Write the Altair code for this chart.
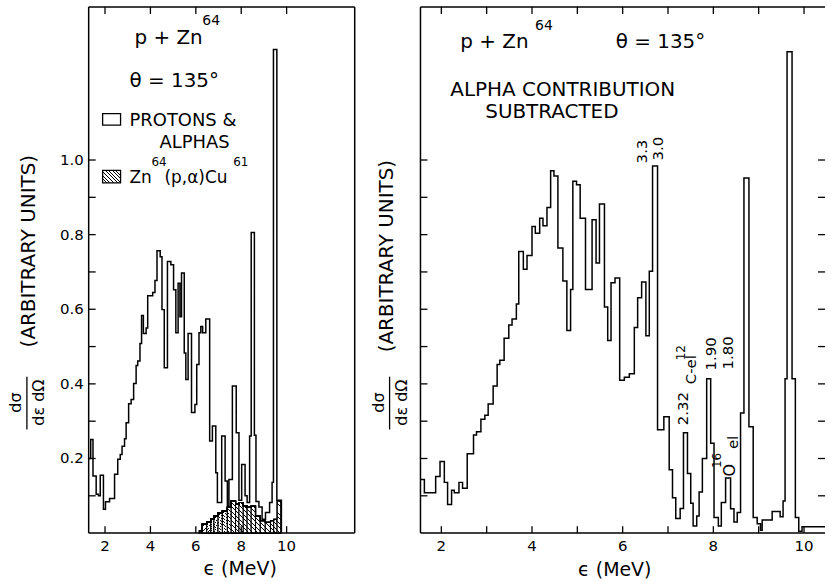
import altair as alt
import pandas as pd

# ---------------- data ----------------
# Left panel: protons & alphas, step histogram (bin left edges in MeV, heights)
left_edges = [1.28, 1.37, 1.47, 1.61, 1.71, 1.79, 1.93, 2.02, 2.20, 2.42,
              2.56, 2.67, 2.75, 2.86, 2.93, 3.04, 3.15, 3.26, 3.37, 3.44,
              3.54, 3.61, 3.69, 3.81, 3.88, 4.10, 4.20, 4.29, 4.43, 4.51,
              4.61, 4.75, 4.90, 5.02, 5.12, 5.22, 5.30, 5.37, 5.49, 5.56,
              5.66, 5.81, 5.96, 6.04, 6.14, 6.22, 6.30, 6.44, 6.61, 6.73,
              6.88, 6.95, 7.14, 7.29, 7.39, 7.46, 7.61, 7.78, 7.90, 8.02,
              8.17, 8.26, 8.37, 8.44, 8.58, 8.65, 8.78, 8.92, 9.07, 9.25,
              9.36, 9.42, 9.57]
left_heights = [0.200, 0.251, 0.153, 0.104, 0.100, 0.155, 0.064, 0.084, 0.093, 0.158,
                0.198, 0.211, 0.233, 0.253, 0.296, 0.347, 0.358, 0.401, 0.449, 0.461,
                0.508, 0.583, 0.535, 0.550, 0.636, 0.645, 0.677, 0.757, 0.741, 0.599,
                0.443, 0.728, 0.719, 0.652, 0.537, 0.670, 0.580, 0.697, 0.483, 0.412,
                0.535, 0.323, 0.345, 0.452, 0.537, 0.554, 0.537, 0.574, 0.247, 0.287,
                0.162, 0.082, 0.260, 0.140, 0.073, 0.144, 0.394, 0.269, 0.088, 0.184,
                0.100, 0.082, 0.260, 0.806, 0.262, 0.085, 0.070, 0.037, 0.055, 0.082,
                0.136, 1.296, 0.088]
left_end = 9.77

# Left panel: Zn64(p,alpha)Cu61 contribution (hatched)
alpha_edges = [6.14, 6.29, 6.48, 6.66, 6.80, 6.98, 7.17, 7.39, 7.56, 7.75,
               7.90, 8.09, 8.26, 8.44, 8.63, 8.84, 9.06, 9.29, 9.43, 9.58]
alpha_heights = [0.006, 0.024, 0.030, 0.038, 0.046, 0.055, 0.060, 0.069, 0.086, 0.078,
                 0.082, 0.073, 0.069, 0.073, 0.046, 0.033, 0.029, 0.033, 0.037, 0.086]
alpha_end = 9.75

# Right panel: alpha contribution subtracted
right_edges = [1.54, 1.626, 1.875, 1.971, 2.066, 2.138, 2.226, 2.286, 2.389, 2.468,
               2.571, 2.710, 2.776, 2.873, 2.960, 3.033, 3.143, 3.231, 3.290, 3.385,
               3.488, 3.560, 3.655, 3.708, 3.809, 3.890, 4.000, 4.073, 4.169, 4.242,
               4.330, 4.411, 4.484, 4.571, 4.681, 4.769, 4.851, 4.901, 4.982, 5.062,
               5.180, 5.325, 5.413, 5.488, 5.598, 5.670, 5.743, 5.831, 5.934, 6.037,
               6.147, 6.257, 6.330, 6.418, 6.512, 6.587, 6.659, 6.769, 6.908, 7.026,
               7.099, 7.171, 7.268, 7.341, 7.429, 7.501, 7.554, 7.633, 7.686, 7.758,
               7.853, 7.941, 8.015, 8.110, 8.176, 8.270, 8.380, 8.455, 8.527, 8.600,
               8.675, 8.785, 8.879, 8.967, 9.040, 9.077, 9.297, 9.473, 9.538, 9.582,
               9.626, 9.736, 9.809, 9.884, 9.956]
right_heights = [0.144, 0.108, 0.152, 0.192, 0.136, 0.077, 0.115, 0.108, 0.136, 0.120,
                 0.213, 0.263, 0.272, 0.305, 0.316, 0.346, 0.394, 0.452, 0.463, 0.522,
                 0.558, 0.574, 0.614, 0.755, 0.707, 0.744, 0.822, 0.804, 0.844, 0.824,
                 0.873, 0.971, 0.957, 0.764, 0.676, 0.543, 0.653, 0.943, 0.934, 0.844,
                 0.653, 0.840, 0.724, 0.882, 0.606, 0.516, 0.671, 0.684, 0.410, 0.418,
                 0.427, 0.551, 0.631, 0.673, 0.529, 0.702, 0.984, 0.277, 0.312, 0.170,
                 0.095, 0.039, 0.066, 0.269, 0.160, 0.080, 0.019, 0.046, 0.110, 0.200,
                 0.414, 0.241, 0.042, 0.019, 0.082, 0.148, 0.065, 0.030, 0.055, 0.322,
                 0.952, 0.285, 0.042, 0.025, 0.008, 0.035, 0.058, 0.044, 0.086, 0.414,
                 1.290, 0.414, 0.042, 0.005, 0.017]
right_end = 10.463

left_xticks = [2, 4, 6, 8, 10]
right_xticks = [2, 3, 4, 5, 6, 7, 8, 9, 10]
x_labels = [2, 4, 6, 8, 10]
y_ticks = [0.1, 0.2, 0.3, 0.4, 0.5, 0.6, 0.7, 0.8, 0.9, 1.0]
y_label_vals = [0.2, 0.4, 0.6, 0.8, 1.0]
y_label_text = ["0.2", "0.4", "0.6", "0.8", "1.0"]

# ---------------- layout ----------------
H = 528
WL, WR = 267, 406
FONT = "DejaVu Sans"
TK = 7  # inward tick length (px)

ys = alt.Scale(domain=[0, 1.41], nice=False, zero=False)
xsL = alt.Scale(domain=[1.28, 13.0], nice=False, zero=False)
xsR = alt.Scale(domain=[1.54, right_end], nice=False, zero=False)

one = pd.DataFrame({"k": [0]})


def steps(edges, heights, end, drop):
    rows = [{"e": e, "v": v, "i": n} for n, (e, v) in enumerate(zip(edges, heights))]
    rows.append({"e": end, "v": heights[-1], "i": len(rows)})
    if drop:
        rows.append({"e": end, "v": 0.0, "i": len(rows)})
    return pd.DataFrame(rows)


def hatch(w, h, period, lw):
    r = h / w
    s = (1 + r) / (1 + r * r)
    dt = 1.0 / (w * (1 + r))
    p, l = period * dt, lw * dt
    stops, t = [], 0.0
    while t < 1.0:
        b = min(t + l, 1.0)
        c = min(t + p, 1.0)
        stops += [{"offset": round(t, 4), "color": "black"},
                  {"offset": round(b, 4), "color": "black"},
                  {"offset": round(b, 4), "color": "white"},
                  {"offset": round(c, 4), "color": "white"}]
        t += p
    return {"gradient": "linear", "x1": 0, "y1": 1, "x2": s, "y2": 1 - s * r,
            "stops": stops}


def txt(s, x, y, size=20, angle=0, align="left", baseline="alphabetic"):
    return alt.Chart(one).mark_text(text=s, fontSize=size, angle=angle, align=align,
                                    baseline=baseline, font=FONT, color="black").encode(
        x=alt.value(x), y=alt.value(y))


def hrule(x1, x2, y, w=1.5):
    return alt.Chart(one).mark_rule(color="black", strokeWidth=w).encode(
        x=alt.value(x1), x2=alt.value(x2), y=alt.value(y))


def vrule(x, y1, y2, w=1.5):
    return alt.Chart(one).mark_rule(color="black", strokeWidth=w).encode(
        x=alt.value(x), y=alt.value(y1), y2=alt.value(y2))


def xticks(vals, xs, W):
    d = pd.DataFrame({"t": vals})
    bot = alt.Chart(d).mark_rule(color="black", strokeWidth=1.3).encode(
        x=alt.X("t:Q", scale=xs, axis=None), y=alt.value(H), y2=alt.value(H - TK))
    top = alt.Chart(d).mark_rule(color="black", strokeWidth=1.3).encode(
        x=alt.X("t:Q", scale=xs, axis=None), y=alt.value(0), y2=alt.value(TK))
    lab = alt.Chart(pd.DataFrame({"t": x_labels})).mark_text(
        font=FONT, fontSize=15, baseline="alphabetic", color="black").encode(
        x=alt.X("t:Q", scale=xs, axis=None), y=alt.value(H + 18), text=alt.Text("t:Q"))
    return [bot, top, lab]


def yticks(x1, x2):
    d = pd.DataFrame({"t": y_ticks})
    return alt.Chart(d).mark_rule(color="black", strokeWidth=1.3).encode(
        y=alt.Y("t:Q", scale=ys, axis=None), x=alt.value(x1), x2=alt.value(x2))


# ---------------- left panel ----------------
ldf = steps(left_edges, left_heights, left_end, True)
adf = steps(alpha_edges, alpha_heights, alpha_end, False)

aw = (alpha_end - alpha_edges[0]) * WL / (13.0 - 1.28)
ah = max(alpha_heights) * H / 1.41

alpha_area = alt.Chart(adf).mark_area(
    interpolate="step-after", fill=hatch(aw, ah, 4.5, 1.0), stroke="black",
    strokeWidth=1.1).encode(
    x=alt.X("e:Q", scale=xsL, axis=None), y=alt.Y("v:Q", scale=ys, axis=None),
    order=alt.Order("i:Q"))

left_line = alt.Chart(ldf).mark_line(
    interpolate="step-after", color="black", strokeWidth=1.5).encode(
    x=alt.X("e:Q", scale=xsL, axis=None), y=alt.Y("v:Q", scale=ys, axis=None),
    order=alt.Order("i:Q"))

ylab = alt.Chart(pd.DataFrame({"t": y_label_vals, "lab": y_label_text})).mark_text(
    font=FONT, fontSize=15, align="right", baseline="middle", color="black").encode(
    y=alt.Y("t:Q", scale=ys, axis=None), x=alt.value(-5), text="lab:N")

box_open = alt.Chart(one).mark_rect(fill="white", stroke="black", strokeWidth=1.3).encode(
    x=alt.value(14), x2=alt.value(32), y=alt.value(107), y2=alt.value(118.5))
box_hatch = alt.Chart(one).mark_rect(fill=hatch(18, 12.5, 3.6, 1.0), stroke="black",
                                     strokeWidth=1.3).encode(
    x=alt.value(14), x2=alt.value(32), y=alt.value(164), y2=alt.value(176.5))

anchor = alt.Chart(one).mark_rule(opacity=0, strokeWidth=1).encode(
    x=alt.value(-89), y=alt.value(-6), y2=alt.value(20))

left_layers = [
    anchor, alpha_area, left_line,
    hrule(0, WL, 0), hrule(0, WL, H), vrule(0, 0, H), vrule(WL, 0, H),
    yticks(0, TK), ylab,
    *xticks(left_xticks, xsL, WL),
    txt("p + Zn", 46, 37, 20), txt("64", 114, 18, 14),
    txt("θ = 135°", 41, 80, 20),
    box_open, txt("PROTONS &", 41, 119, 18), txt("ALPHAS", 71, 141, 18),
    box_hatch, txt("Zn", 41, 177, 17), txt("64", 63, 160, 12),
    txt("(p,α)Cu", 76, 177, 17), txt("61", 145, 160, 12),
    txt("(ARBITRARY UNITS)", -60, 245, 20, 270, "center", "middle"),
    txt("dσ", -73, 397, 16, 270, "center", "middle"),
    vrule(-62, 371, 424, 1.3),
    txt("dε dΩ", -50, 397, 16, 270, "center", "middle"),
    txt("ϵ  (MeV)", 152, 570, 19, 0, "center"),
]
left = alt.layer(*left_layers).properties(width=WL, height=H)

# ---------------- right panel ----------------
rdf = steps(right_edges, right_heights, right_end, False)
right_line = alt.Chart(rdf).mark_line(
    interpolate="step-after", color="black", strokeWidth=1.5).encode(
    x=alt.X("e:Q", scale=xsR, axis=None), y=alt.Y("v:Q", scale=ys, axis=None),
    order=alt.Order("i:Q"))

right_layers = [
    right_line,
    hrule(0, WR, 0), hrule(0, WR, H), vrule(0, 0, H),
    yticks(0, TK), yticks(WR - TK, WR),
    *xticks(right_xticks, xsR, WR),
    txt("p + Zn", 40, 41, 20), txt("64", 115, 23, 14),
    txt("θ = 135°", 196, 41, 20),
    txt("ALPHA CONTRIBUTION", 30, 89, 20), txt("SUBTRACTED", 65, 111, 20),
    txt("3.3", 222, 145, 15, 270, "center", "middle"),
    txt("3.0", 238, 142, 15, 270, "center", "middle"),
    txt("2.32", 263, 403, 15, 270, "center", "middle"),
    txt("12", 261, 347, 12, 270, "center", "middle"),
    txt("C-el", 272, 364, 15, 270, "center", "middle"),
    txt("1.90", 292, 348, 15, 270, "center", "middle"),
    txt("1.80", 309, 347, 15, 270, "center", "middle"),
    txt("O", 311, 465, 16, 270, "center", "middle"),
    txt("16", 298, 455, 12, 270, "center", "middle"),
    txt("el", 314, 437, 15, 270, "center", "middle"),
    txt("(ARBITRARY UNITS)", -34, 250, 20, 270, "center", "middle"),
    txt("dσ", -42, 397, 16, 270, "center", "middle"),
    vrule(-31, 371, 424, 1.3),
    txt("dε dΩ", -19, 397, 16, 270, "center", "middle"),
    txt("ϵ  (MeV)", 195, 571, 19, 0, "center"),
]
right = alt.layer(*right_layers).properties(width=WR, height=H)

chart = alt.hconcat(left, right, spacing=66, bounds="flush").properties(
    padding={"left": 0, "top": 0, "right": 0, "bottom": 0},
    background="white",
).configure_view(stroke=None)

chart.save("out.html", embed_options={"renderer": "svg", "actions": False})
